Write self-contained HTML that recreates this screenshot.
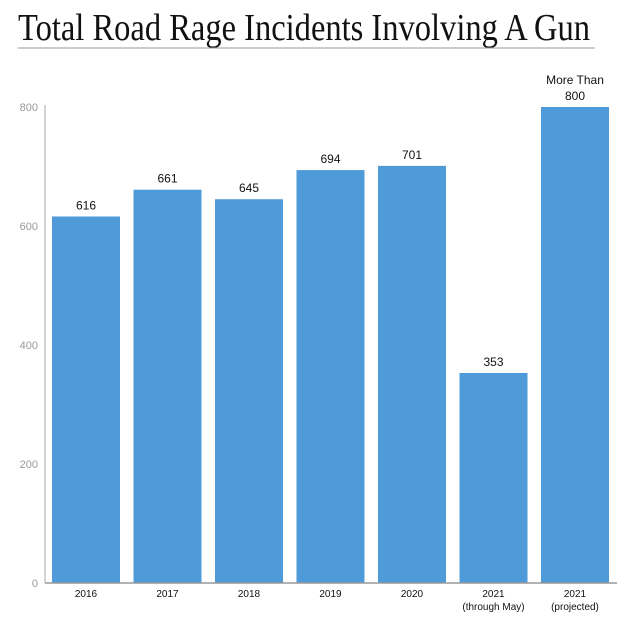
<!DOCTYPE html>
<html><head><meta charset="utf-8"><style>
body{margin:0;background:#fff;}
svg{display:block;font-family:"Liberation Sans",Arial,sans-serif;}
</style></head><body>
<svg id="chart" width="634" height="619" viewBox="0 0 634 619">
<text x="18" y="40" font-family="Liberation Serif, serif" font-size="38" fill="#111" textLength="572" lengthAdjust="spacingAndGlyphs">Total Road Rage Incidents Involving A Gun</text>
<line x1="18" y1="48" x2="595" y2="48" stroke="#999" stroke-width="1"/>
<g id="bars"></g>
</svg>
<script>
const categories = ["2016","2017","2018","2019","2020","2021|(through May)","2021|(projected)"];
const values = [616,661,645,694,701,353,800];
const valueLabels = ["616","661","645","694","701","353","More Than|800"];
const yTicks = [0,200,400,600,800];
const NS="http://www.w3.org/2000/svg";
const svg=document.getElementById('chart');
const g=document.getElementById('bars');
const y0=583, yTop=107, yMax=800;
const y=v=>y0-(v/yMax)*(y0-yTop);
const x0=52, step=81.5, bw=68;
const x=i=>x0+i*step;
function mk(tag,attrs){const e=document.createElementNS(NS,tag);for(const k in attrs)e.setAttribute(k,attrs[k]);return e;}
yTicks.forEach(t=>{
  const e=mk('text',{x:38,y:y(t)+4,'text-anchor':'end','font-size':11,fill:'#999'});
  
  
  e.textContent=t;g.appendChild(e);
});
values.forEach((v,i)=>{
  const r=mk('rect',{x:x(i),y:y(v),width:bw,height:y0-y(v),fill:'#4f9bd9'});
  
  
  g.appendChild(r);
  const lines=valueLabels[i].split('|');
  lines.forEach((s,j)=>{
    const t=mk('text',{x:x(i)+bw/2,y:y(v)-7-(lines.length-1-j)*16,'text-anchor':'middle','font-size':12,fill:'#111'});
    
    
    t.textContent=s;g.appendChild(t);
  });
  categories[i].split('|').forEach((s,j)=>{
    const t=mk('text',{x:x(i)+bw/2,y:597+j*13,'text-anchor':'middle','font-size':10,fill:'#111'});
    
    
    t.textContent=s;g.appendChild(t);
  });
});
const ax=mk('line',{x1:45,y1:105,x2:45,y2:y0,stroke:'#aaa','stroke-width':1});


g.appendChild(ax);
const bx=mk('line',{x1:45,y1:y0,x2:617,y2:y0,stroke:'#999','stroke-width':1.5});


g.appendChild(bx);
</script>
</body></html>
